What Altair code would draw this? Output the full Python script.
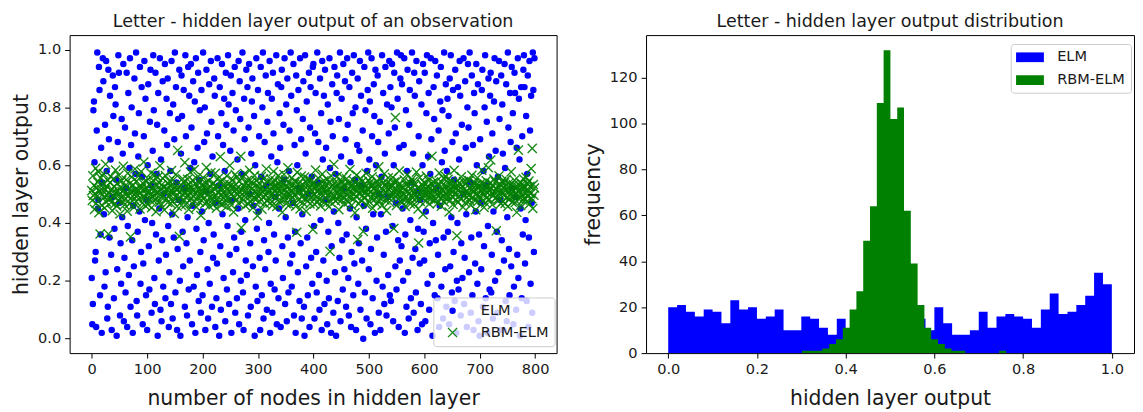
import altair as alt
import pandas as pd

SERIES = ["ELM", "RBM-ELM"]
COLORS = ["#0000ff", "#008000"]

# hidden layer output of one observation, node by node (index = node number)
ELM_OUT = [
    .21,.05,.12,.79,.82,.61,.27,.30,.04,.72,.99,.45,.48,.94,.86,.15,.36,.66,.02,.54,
    .97,.89,.43,.18,.74,.23,.96,.58,.07,.11,.93,.69,.35,.84,.62,.29,.03,.49,.91,.77,
    .14,.38,.87,.81,.55,.01,.24,.68,.98,.92,.47,.08,.33,.19,.76,.42,.64,.95,.06,.28,
    .73,.16,.52,.92,.04,.39,.85,.22,.59,.97,.11,.67,.80,.34,.02,.46,.25,.90,.71,.57,
    .99,.13,.08,.37,.63,.78,.44,.94,.19,.30,.87,.56,.05,.26,.70,.96,.41,.83,.15,.48,
    .03,.60,.88,.32,.17,.75,.93,.53,.09,.40,.65,.98,.79,.21,.12,.92,.36,.57,.74,.01,
    .85,.27,.45,.97,.10,.62,.06,.34,.89,.18,.50,.72,.95,.14,.29,.83,.67,.90,.39,.04,
    .23,.78,.58,.12,.96,.43,.07,.81,.35,.69,.99,.16,.87,.54,.03,.31,.76,.48,.93,.20,
    .01,.64,.91,.77,.37,.25,.86,.52,.11,.98,.70,.33,.08,.42,.94,.17,.84,.27,.59,.95,
    .73,.05,.46,.89,.18,.61,.82,.02,.97,.38,.22,.66,.92,.13,.55,.79,.30,.09,.86,.44,
    .15,.99,.34,.68,.80,.03,.51,.93,.71,.24,.07,.40,.88,.19,.57,.96,.75,.11,.63,.28,
    .36,.90,.84,.04,.47,.14,.26,.97,.70,.53,.01,.87,.32,.10,.78,.95,.43,.67,.21,.83,
    .58,.06,.92,.74,.17,.39,.98,.81,.12,.29,.65,.91,.02,.48,.85,.23,.72,.35,.94,.09,
    .79,.31,.14,.62,.45,.96,.05,.89,.76,.20,.37,.57,.99,.16,.03,.83,.69,.41,.27,.93,
    .22,.87,.08,.73,.95,.50,.33,.11,.64,.82,.90,.25,.46,.77,.01,.60,.18,.97,.38,.13,
    .86,.44,.70,.28,.03,.94,.56,.15,.80,.99,.07,.34,.68,.24,.91,.53,.10,.75,.85,.30,
    .40,.96,.02,.19,.63,.83,.09,.92,.71,.36,.17,.49,.27,.98,.05,.61,.88,.14,.45,.78,
    .66,.04,.87,.93,.32,.21,.74,.55,.97,.12,.42,.81,.06,.90,.35,.16,.58,.72,.26,.99,
    .84,.18,.29,.47,.95,.08,.67,.37,.02,.91,.79,.60,.23,.86,.52,.13,.97,.33,.69,.07,
    .43,.76,.89,.11,.01,.98,.64,.25,.82,.35,.15,.50,.92,.04,.73,.87,.28,.56,.19,.94,
    .95,.39,.07,.71,.85,.30,.16,.99,.54,.68,.22,.10,.90,.41,.78,.03,.96,.62,.27,.84,
    .12,.93,.48,.66,.20,.05,.81,.37,.14,.97,.59,.75,.02,.32,.88,.70,.09,.44,.94,.23,
    .57,.01,.85,.91,.13,.40,.76,.28,.99,.06,.63,.83,.34,.17,.95,.52,.24,.89,.69,.11,
    .36,.97,.74,.21,.08,.87,.45,.61,.04,.30,.92,.78,.15,.98,.26,.55,.80,.03,.42,.67,
    .90,.19,.33,.65,.96,.10,.84,.53,.27,.72,.00,.46,.94,.16,.79,.38,.07,.58,.86,.99,
    .24,.62,.82,.05,.31,.97,.70,.14,.43,.88,.77,.02,.93,.60,.20,.35,.91,.68,.09,.50,
    .75,.03,.43,.56,.98,.18,.85,.29,.12,.64,.94,.37,.08,.81,.49,.22,.71,.96,.15,.87,
    .13,.80,.95,.39,.06,.60,.92,.73,.25,.47,.17,.99,.83,.34,.04,.66,.27,.90,.98,.32,
    .88,.45,.20,.67,.97,.02,.36,.79,.11,.58,.93,.23,.07,.74,.86,.41,.14,.54,.99,.28,
    .64,.09,.92,.84,.31,.16,.96,.51,.03,.38,.70,.89,.26,.48,.12,.81,.05,.60,.95,.37,
    .27,.92,.06,.44,.78,.98,.19,.63,.85,.10,.33,.57,.97,.69,.22,.01,.40,.87,.76,.15,
    .96,.34,.52,.91,.14,.29,.72,.04,.46,.82,.94,.18,.61,.79,.07,.35,.99,.65,.24,.88,
    .11,.58,.83,.37,.77,.05,.90,.25,.98,.42,.16,.68,.86,.30,.55,.13,.93,.71,.02,.20,
    .40,.87,.17,.62,.96,.84,.08,.33,.74,.21,.50,.97,.12,.28,.89,.66,.43,.04,.80,.95,
    .73,.23,.99,.54,.09,.35,.91,.15,.67,.03,.85,.78,.26,.44,.95,.60,.19,.88,.06,.36,
    .01,.69,.47,.24,.86,.93,.11,.58,.32,.80,.98,.14,.53,.75,.02,.39,.90,.63,.17,.84,
    .92,.16,.29,.71,.07,.44,.82,.97,.20,.65,.89,.37,.09,.56,.23,.96,.76,.48,.03,.91,
    .34,.81,.64,.03,.27,.95,.59,.13,.88,.06,.42,.99,.73,.31,.15,.85,.68,.25,.94,.52,
    .78,.05,.18,.92,.85,.49,.10,.66,.29,.97,.21,.83,.62,.01,.45,.87,.14,.70,.36,.93,
    .98,.87,.26,.41,.77,.13,.57,.91,.04,.35,.96,.72,.19,.84,.47,.09,.99,.86,.30,.97,
]

RBM_OUT = [
    .512,.478,.563,.495,.530,.447,.501,.589,.468,.522,.493,.541,.577,.436,.509,.362,.556,.517,.462,.498,
    .534,.571,.489,.452,.515,.603,.473,.527,.496,.548,.362,.505,.482,.539,.561,.471,.518,.443,.507,.552,
    .491,.526,.467,.583,.504,.458,.537,.512,.479,.565,.499,.431,.523,.488,.546,.509,.474,.596,.515,.463,
    .528,.485,.549,.501,.441,.572,.494,.519,.466,.537,.352,.508,.559,.476,.492,.531,.455,.514,.587,.503,
    .474,.545,.511,.497,.562,.483,.526,.449,.505,.578,.521,.469,.538,.492,.611,.487,.516,.459,.543,.499,
    .519,.464,.552,.508,.481,.535,.496,.573,.453,.524,.490,.547,.477,.513,.566,.502,.439,.529,.486,.558,
    .506,.541,.472,.598,.517,.461,.532,.489,.555,.496,.523,.445,.509,.564,.484,.518,.518,.471,.536,.493,
    .545,.498,.527,.467,.581,.512,.475,.549,.503,.433,.526,.491,.568,.514,.458,.651,.482,.521,.354,.507,
    .487,.532,.461,.515,.553,.497,.542,.479,.609,.508,.465,.528,.494,.551,.519,.447,.533,.505,.576,.484,
    .522,.469,.548,.493,.511,.585,.476,.537,.502,.455,.529,.488,.561,.516,.473,.544,.499,.426,.531,.513,
    .495,.557,.483,.524,.467,.539,.508,.592,.472,.518,.501,.546,.459,.527,.490,.574,.512,.478,.535,.463,
    .538,.488,.516,.572,.497,.451,.525,.483,.554,.509,.470,.542,.629,.496,.521,.464,.548,.505,.487,.533,
    .471,.524,.501,.456,.563,.514,.489,.536,.477,.599,.506,.531,.462,.519,.549,.492,.438,.527,.510,.568,
    .516,.482,.559,.498,.523,.468,.545,.507,.491,.631,.384,.515,.557,.479,.528,.494,.571,.460,.511,.537,
    .503,.548,.466,.529,.490,.582,.513,.474,.541,.497,.520,.453,.536,.486,.564,.508,.481,.547,.499,.425,
    .527,.492,.538,.475,.517,.503,.561,.448,.526,.489,.553,.512,.468,.534,.496,.587,.477,.522,.506,.543,
    .484,.515,.469,.552,.500,.539,.461,.524,.578,.493,.510,.546,.485,.529,.457,.518,.502,.564,.473,.535,
    .545,.478,.521,.506,.437,.533,.495,.568,.482,.514,.549,.467,.527,.501,.591,.488,.540,.463,.519,.497,
    .509,.556,.487,.531,.472,.517,.544,.499,.458,.528,.368,.575,.511,.480,.537,.506,.449,.525,.562,.490,
    .534,.470,.512,.497,.559,.485,.523,.441,.538,.504,.476,.551,.493,.520,.466,.547,.515,.489,.532,.378,
    .498,.542,.465,.519,.583,.491,.528,.507,.474,.555,.516,.483,.536,.459,.524,.501,.569,.477,.513,.546,
    .521,.487,.533,.468,.506,.550,.494,.517,.456,.541,.302,.472,.563,.499,.530,.486,.518,.603,.492,.539,
    .476,.529,.504,.561,.483,.515,.446,.532,.497,.520,.543,.479,.511,.558,.490,.526,.467,.535,.505,.481,
    .553,.496,.518,.473,.539,.509,.585,.488,.524,.461,.531,.502,.547,.484,.516,.435,.527,.493,.566,.510,
    .343,.537,.466,.525,.500,.554,.478,.512,.543,.495,.371,.521,.486,.534,.508,.572,.463,.519,.497,.548,
    .515,.474,.540,.506,.487,.529,.560,.451,.518,.499,.536,.482,.524,.511,.468,.545,.493,.531,.594,.477,
    .502,.551,.485,.520,.462,.537,.495,.513,.570,.480,.527,.506,.443,.539,.491,.556,.517,.472,.523,.500,
    .534,.490,.526,.557,.499,.381,.542,.508,.765,.519,.461,.546,.496,.532,.505,.580,.488,.515,.476,.528,
    .470,.523,.501,.482,.549,.514,.457,.535,.492,.567,.510,.478,.527,.503,.540,.466,.518,.494,.552,.487,
    .543,.506,.465,.531,.497,.512,.576,.486,.521,.449,.331,.500,.557,.475,.516,.491,.534,.509,.430,.525,
    .494,.538,.511,.476,.562,.503,.527,.489,.548,.466,.519,.505,.483,.536,.631,.497,.514,.542,.478,.522,
    .517,.482,.544,.500,.468,.531,.495,.573,.509,.486,.524,.458,.540,.513,.491,.555,.473,.529,.504,.561,
    .485,.520,.496,.551,.507,.438,.533,.479,.516,.545,.492,.528,.464,.511,.582,.498,.537,.481,.519,.356,
    .532,.471,.515,.493,.539,.508,.484,.560,.502,.526,.455,.543,.497,.518,.470,.535,.510,.488,.549,.503,
    .496,.547,.478,.523,.462,.514,.565,.490,.529,.506,.481,.540,.517,.446,.532,.501,.556,.475,.521,.493,
    .528,.489,.537,.510,.583,.477,.520,.498,.454,.535,.512,.469,.546,.487,.525,.504,.591,.483,.514,.538,
    .618,.519,.503,.463,.531,.496,.552,.509,.485,.542,.373,.516,.492,.528,.478,.563,.500,.534,.467,.511,
    .544,.501,.475,.524,.497,.539,.468,.513,.550,.488,.520,.457,.536,.507,.482,.530,.494,.577,.515,.472,
    .508,.532,.491,.548,.470,.518,.504,.437,.526,.495,.652,.483,.512,.541,.461,.522,.499,.535,.479,.553,
    .519,.486,.523,.505,.558,.474,.536,.492,.510,.545,.466,.527,.501,.588,.484,.658,.450,.533,.496,.521,
]

# histogram counts (ELM: 50 bins over 0..1, RBM-ELM: 30 bins over its own range)
ELM_HIST = [20, 21, 18, 16, 19, 18, 13, 23, 19, 20,
            15, 16, 19, 10, 10, 16, 15, 11, 8, 15,
            10, 13, 14, 12, 11, 13, 14, 12, 15, 10,
            20, 13, 8, 8, 10, 18, 11, 16, 17, 16,
            15, 11, 19, 26, 17, 18, 21, 25, 35, 30]
ELM_RANGE = [0.0, 1.0]
RBM_HIST = [1, 1, 1, 2, 4, 6, 11, 19, 27, 49,
            64, 109, 132, 102, 107, 62, 39, 21, 11, 6,
            4, 2, 1, 1, 0, 0, 0, 0, 0, 1]
RBM_RANGE = [0.3016, 0.7615]

LEFT_Y_TICKS = [0.0, 0.2, 0.4, 0.6, 0.8, 1.0]
LEFT_X_TICKS = [0, 100, 200, 300, 400, 500, 600, 700, 800]
RIGHT_X_TICKS = [0.0, 0.2, 0.4, 0.6, 0.8, 1.0]
RIGHT_Y_TICKS = [0, 20, 40, 60, 80, 100, 120]

# ---------- tables ----------
scatter_df = pd.DataFrame({
    "node": list(range(len(ELM_OUT))) + list(range(len(RBM_OUT))),
    "output": ELM_OUT + RBM_OUT,
    "series": ["ELM"] * len(ELM_OUT) + ["RBM-ELM"] * len(RBM_OUT),
})


def step_rows(name, counts, rng):
    """Histogram outline as step points: each bin's left edge, plus the last right edge."""
    w = (rng[1] - rng[0]) / len(counts)
    out = [{"series": name, "edge": rng[0] + i * w, "count": c} for i, c in enumerate(counts)]
    out.append({"series": name, "edge": rng[1], "count": counts[-1]})
    return out


elm_hist_df = pd.DataFrame(step_rows("ELM", ELM_HIST, ELM_RANGE))
rbm_hist_df = pd.DataFrame(step_rows("RBM-ELM", RBM_HIST, RBM_RANGE))

FONT = "DejaVu Sans"
TXT = "#1a1a1a"
TICK_FS = 14.65
XPATH = "M-1.8,-1.8L1.8,1.8M1.8,-1.8L-1.8,1.8"
RECT = "M-2,-0.7H2V0.7H-2Z"

left_legend = alt.Legend(
    title=None, orient="none", legendX=366, legendY=264,
    padding=6, symbolOffset=6, labelOffset=21, rowPadding=7,
    strokeColor="#cccccc", fillColor="rgba(255,255,255,0.8)", cornerRadius=3,
    labelFont=FONT, labelFontSize=TICK_FS, labelColor=TXT,
    symbolSize=26, symbolStrokeWidth=1.4,
)

left = alt.Chart(scatter_df).mark_point(size=26, strokeWidth=1.4, opacity=1).encode(
    x=alt.X("node:Q", scale=alt.Scale(domain=[-39.95, 838.95], nice=False, zero=False),
            axis=alt.Axis(values=LEFT_X_TICKS, format="d", title="number of nodes in hidden layer")),
    y=alt.Y("output:Q", scale=alt.Scale(domain=[-0.05, 1.05], nice=False, zero=False),
            axis=alt.Axis(values=LEFT_Y_TICKS, format=".1f", title="hidden layer output")),
    fill=alt.Fill("series:N", scale=alt.Scale(domain=SERIES, range=["#0000ff", "transparent"]),
                  legend=left_legend),
    stroke=alt.Stroke("series:N", scale=alt.Scale(domain=SERIES, range=["#0000ff", "rgba(0,128,0,0.9)"]),
                      legend=left_legend),
    shape=alt.Shape("series:N", scale=alt.Scale(domain=SERIES, range=["circle", XPATH]),
                    legend=left_legend),
).properties(
    width=490, height=320,
    title=alt.TitleParams("Letter - hidden layer output of an observation"),
)

right_legend = alt.Legend(
    title=None, orient="none", legendX=367, legendY=9,
    padding=6, symbolOffset=6, labelOffset=20, rowPadding=8,
    strokeColor="#cccccc", fillColor="rgba(255,255,255,0.8)", cornerRadius=3,
    labelFont=FONT, labelFontSize=TICK_FS, labelColor=TXT,
    symbolType=RECT, symbolSize=196, symbolStrokeWidth=0,
)

hist_x = alt.X("edge:Q", scale=alt.Scale(domain=[-0.05, 1.05], nice=False, zero=False),
               axis=alt.Axis(values=RIGHT_X_TICKS, format=".1f", title="hidden layer output"))
hist_y = alt.Y("count:Q", scale=alt.Scale(domain=[0, 138.6], nice=False),
               axis=alt.Axis(values=RIGHT_Y_TICKS, format="d", title="frequency"))
hist_color = alt.Color("series:N", scale=alt.Scale(domain=SERIES, range=COLORS), legend=right_legend)

elm_area = alt.Chart(elm_hist_df).mark_area(interpolate="step-after", opacity=1).encode(
    x=hist_x, y=hist_y, color=hist_color)
rbm_area = alt.Chart(rbm_hist_df).mark_area(interpolate="step-after", opacity=1).encode(
    x=hist_x, y=hist_y, color=hist_color)

right = alt.layer(elm_area, rbm_area).properties(
    width=491, height=320,
    title=alt.TitleParams("Letter - hidden layer output distribution"),
)

chart = alt.hconcat(left, right, spacing=25).resolve_scale(
    x="independent", y="independent", color="independent",
    fill="independent", stroke="independent", shape="independent",
).properties(
    padding={"left": 3, "top": 2, "right": 0, "bottom": 0},
).configure(
    font=FONT,
).configure_view(
    stroke="#000000", strokeWidth=1,
).configure_axis(
    grid=False, domain=False, ticks=True, tickSize=5, tickColor="#000000", tickWidth=1,
    labelFont=FONT, labelFontSize=TICK_FS, labelColor=TXT, labelPadding=4,
    titleFont=FONT, titleFontSize=20.5, titleFontWeight="normal", titleColor=TXT,
    titlePadding=6,
).configure_axisX(
    titlePadding=12,
).configure_title(
    font=FONT, fontSize=17.6, fontWeight="normal", color=TXT, offset=5, anchor="middle",
)

chart.save("out.html", embed_options={"renderer": "svg", "actions": False})
